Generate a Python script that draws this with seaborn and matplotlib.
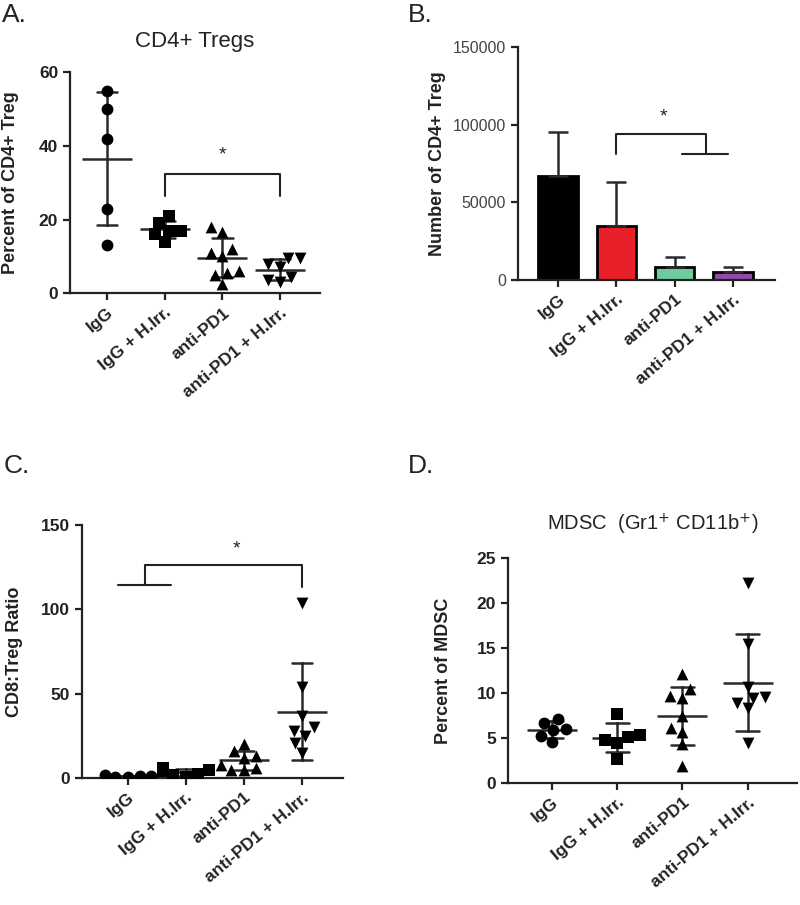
import numpy as np
import pandas as pd
import matplotlib.pyplot as plt
import seaborn as sns

# ---------------- data ----------------
groups = ["IgG", "IgG + H.Irr.", "anti-PD1", "anti-PD1 + H.Irr."]
markers = ["o", "s", "^", "v"]

# A. CD4+ Tregs (% of CD4+)
treg_pct_igg = [55, 50, 42, 23, 13]
treg_pct_igg_hirr = [21, 19, 17, 17, 16, 14]
treg_pct_pd1 = [18, 16.5, 12, 11, 10, 6, 5.5, 5, 2.5]
treg_pct_pd1_hirr = [9.5, 9.5, 8, 7, 4.5, 3.5, 3]

# B. Number of CD4+ Treg (mean + SD)
treg_count_mean = [67000, 35000, 8600, 5400]
treg_count_sd = [28300, 27800, 6000, 3200]
bar_colors = ["#000000", "#e8202a", "#6dcc9e", "#9448ad"]

# C. CD8:Treg ratio
ratio_igg = [1.2, 0.8, 1.5, 0.5, 1.0]
ratio_igg_hirr = [6, 5, 4, 2.5, 1.5, 0.8]
ratio_pd1 = [20, 16, 13, 12, 8, 6, 5, 4.5]
ratio_pd1_hirr = [104, 54, 37, 30, 28, 25, 21, 15]

# D. MDSC (Gr1+ CD11b+)
mdsc_igg = [7.1, 6.7, 6.0, 5.9, 5.2, 4.6]
mdsc_igg_hirr = [7.7, 5.3, 5.1, 4.8, 4.5, 2.7]
mdsc_pd1 = [12.1, 10.4, 9.7, 9.4, 7.5, 6.1, 5.7, 4.3, 1.9]
mdsc_pd1_hirr = [22.2, 15.5, 10.7, 9.6, 9.5, 8.9, 8.3, 4.5]

sns.set_style("ticks")
plt.rcParams['font.family'] = ['Liberation Sans', 'DejaVu Sans']
TXT = "#222222"
FS = 12.5


def long_df(series):
    rows = []
    for g, vals in zip(groups, series):
        for v in vals:
            rows.append((g, v))
    return pd.DataFrame(rows, columns=["group", "value"])


def style_axis(ax, ylabel, yticks, bold_ticks=True, labelpad=3):
    sns.despine(ax=ax)
    for s in ["left", "bottom"]:
        ax.spines[s].set_linewidth(1.6)
        ax.spines[s].set_color(TXT)
    ax.tick_params(axis="both", width=1.6, length=5, color=TXT, labelcolor=TXT)
    ax.set_yticks(yticks)
    ax.set_xticks(range(len(groups)))
    ax.set_xticklabels(groups, rotation=40, ha="right", rotation_mode="anchor",
                       fontsize=FS, fontweight="bold")
    for lbl in ax.get_yticklabels():
        lbl.set_fontsize(FS)
        lbl.set_fontweight("bold" if bold_ticks else "normal")
    ax.set_xlabel("")
    ax.set_ylabel(ylabel, fontsize=13, fontweight="bold", color=TXT, labelpad=labelpad)


def scatter_panel(ax, series, ylim, yticks, ylabel, labelpad, size=8.5):
    df = long_df(series)
    for g, m, vals in zip(groups, markers, series):
        sns.swarmplot(x=[g] * len(vals), y=vals, order=groups, marker=m,
                      color="black", size=size, ax=ax)
    sns.pointplot(data=df, x="group", y="value", order=groups, errorbar="sd",
                  capsize=0.35, color="#2a2a2a", linestyle="none", marker="_",
                  markersize=36, markeredgewidth=1.8,
                  err_kws={"linewidth": 1.8}, ax=ax)
    ax.set_ylim(*ylim)
    style_axis(ax, ylabel, yticks, labelpad=labelpad)


def bracket(ax, x0, x1, y, leg0, leg1, star_x, star_y):
    ax.plot([x0, x0, x1, x1], [leg0, y, y, leg1], color=TXT, lw=1.5, clip_on=False)
    ax.text(star_x, star_y, "*", ha="center", va="center", fontsize=14, color=TXT)


fig = plt.figure(figsize=(8, 9.05), dpi=100)

# ---- A ----
axA = fig.add_axes([0.0875, 0.676, 0.3125, 0.244])
scatter_panel(axA, [treg_pct_igg, treg_pct_igg_hirr, treg_pct_pd1, treg_pct_pd1_hirr],
              (0, 60), [0, 20, 40, 60], "Percent of CD4+ Treg", labelpad=14)
axA.set_xlim(-0.64, 3.69)
axA.set_title("CD4+ Tregs", fontsize=16, color=TXT, pad=18)
bracket(axA, 1, 3, 32.5, 26.5, 26.5, 2.0, 37.5)

# ---- B ----
axB = fig.add_axes([0.6475, 0.6906, 0.321, 0.2575])
sns.barplot(x=groups, y=treg_count_mean, hue=groups, order=groups, hue_order=groups,
            palette=bar_colors, saturation=1, width=0.68, edgecolor="black",
            linewidth=2, legend=False, ax=axB)
axB.errorbar(range(len(groups)), treg_count_mean,
             yerr=[np.zeros(len(groups)), treg_count_sd], fmt="none",
             ecolor="#2a2a2a", elinewidth=1.8, capsize=7, capthick=1.8, zorder=1)
axB.set_ylim(0, 150000)
axB.set_xlim(-0.69, 3.72)
style_axis(axB, "Number of CD4+ Treg", [0, 50000, 100000, 150000],
           bold_ticks=False, labelpad=5)
for lbl in axB.get_yticklabels():
    lbl.set_color("#444444")
    lbl.set_fontsize(11.5)
# bracket: IgG + H.Irr. vs anti-PD1 groups
axB.plot([1, 1, 2.54, 2.54], [81000, 94300, 94300, 81000], color=TXT, lw=1.5)
axB.plot([2.12, 2.92], [81000, 81000], color=TXT, lw=1.5)
axB.text(1.8, 105000, "*", ha="center", va="center", fontsize=14, color=TXT)

# ---- C ----
axC = fig.add_axes([0.1025, 0.1403, 0.326, 0.2796])
scatter_panel(axC, [ratio_igg, ratio_igg_hirr, ratio_pd1, ratio_pd1_hirr],
              (0, 150), [0, 50, 100, 150], "CD8:Treg Ratio", labelpad=13)
axC.set_xlim(-0.79, 3.71)
axC.plot([-0.17, 0.74], [114.5, 114.5], color=TXT, lw=1.5)
axC.plot([0.29, 0.29, 3.0, 3.0], [114.5, 126.3, 126.3, 113.5], color=TXT, lw=1.5)
axC.text(1.88, 136, "*", ha="center", va="center", fontsize=14, color=TXT)

# ---- D ----
axD = fig.add_axes([0.635, 0.1348, 0.361, 0.2486])
scatter_panel(axD, [mdsc_igg, mdsc_igg_hirr, mdsc_pd1, mdsc_pd1_hirr],
              (0, 25), [0, 5, 10, 15, 20, 25], "Percent of MDSC", labelpad=18)
axD.set_xlim(-0.67, 3.75)
axD.set_title("MDSC  (Gr1$^{+}$ CD11b$^{+}$)", fontsize=14.5, color=TXT, pad=20)

# panel letters
for x, y, t in [(0.003, 0.997, "A."), (0.51, 0.997, "B."),
                (0.005, 0.498, "C."), (0.51, 0.498, "D.")]:
    fig.text(x, y, t, fontsize=19, color=TXT, ha="left", va="top")

fig.savefig("out.png", dpi=100)
